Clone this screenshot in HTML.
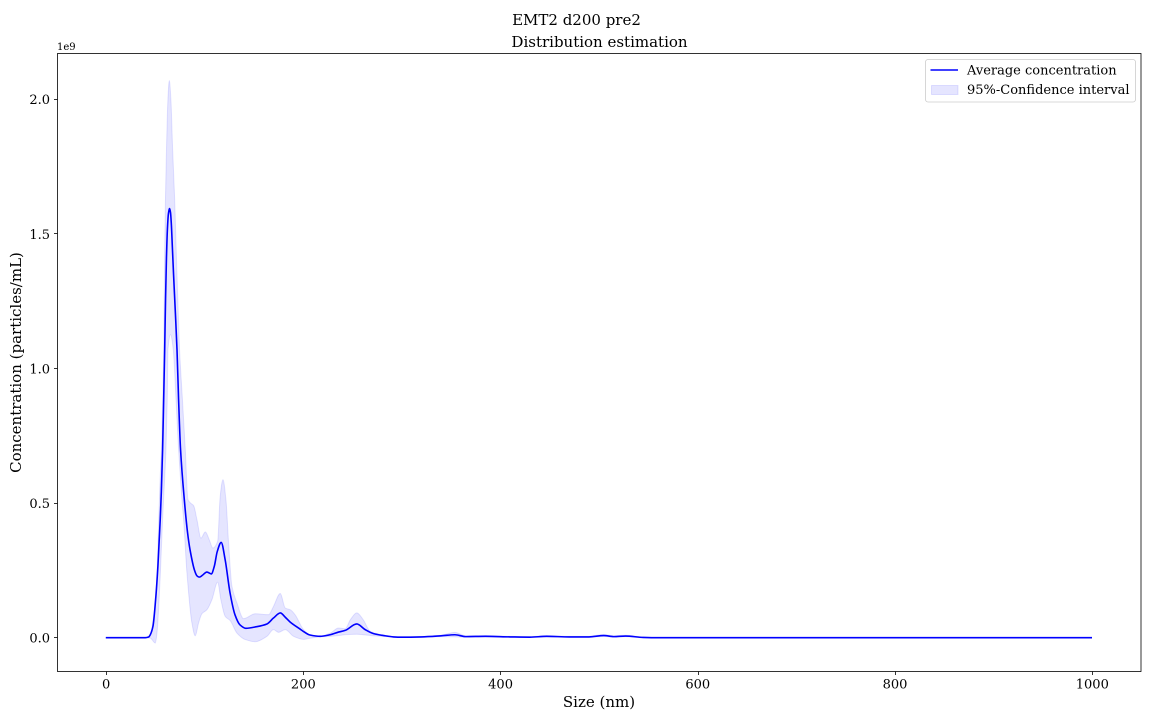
<!DOCTYPE html>
<html>
<head>
<meta charset="utf-8">
<title>EMT2 d200 pre2</title>
<style>
html,body{margin:0;padding:0;background:#fff;}
svg{display:block;}
text{font-family:"DejaVu Serif","Liberation Serif",serif;fill:#000;}
</style>
</head>
<body>
<svg id="chart" xmlns="http://www.w3.org/2000/svg" width="1152" height="720" viewBox="0 0 1152 720">
  <rect x="0" y="0" width="1152" height="720" fill="#fff"/>
  <text x="576.5" y="25" font-size="15" text-anchor="middle">EMT2 d200 pre2</text>
  <text x="599.5" y="47" font-size="15" text-anchor="middle">Distribution estimation</text>
  <g id="marks"></g>
  <g id="x-axis"></g>
  <g id="y-axis"></g>
  <rect x="57.5" y="53.5" width="1083.5" height="618" fill="none" stroke="#000" stroke-width="0.8"/>
  <text x="57" y="50" font-size="10">1e9</text>
  <text x="599" y="707" font-size="15" text-anchor="middle">Size (nm)</text>
  <text x="0" y="0" font-size="15" text-anchor="middle" transform="translate(21 362.5) rotate(-90)">Concentration (particles/mL)</text>
  <g>
    <rect x="925.5" y="59.5" width="210" height="42.5" rx="2.5" ry="2.5" fill="#fff" fill-opacity="0.8" stroke="#ccc" stroke-width="0.8"/>
    <line x1="930.5" y1="70" x2="958" y2="70" stroke="#0000ff" stroke-width="1.6"/>
    <text x="967" y="74.5" font-size="13">Average concentration</text>
    <rect x="931.5" y="85.5" width="26.5" height="9" fill="#0000ff" fill-opacity="0.1" stroke="#0000ff" stroke-opacity="0.1"/>
    <text x="967" y="94" font-size="13">95%-Confidence interval</text>
  </g>
</svg>
<script>
const xTicks = [0, 200, 400, 600, 800, 1000];
const yTicks = [0, 0.5, 1.0, 1.5, 2.0];
const yTickLabels = ['0.0', '0.5', '1.0', '1.5', '2.0'];

const meanSizes = [0,40,43.4,45.1,47.8,50.5,52.9,55.2,56.3,57.6,58.6,59.7,60.6,61.5,62.5,63.5,64.7,65.6,66.4,67.5,68.7,70.5,72.2,73.8,75.8,79.6,82.9,85.4,90,92.4,94.8,98,102.5,107,110,113,117,121,126,131,136,142,153,163.4,170,177,182,187,197,200.5,207,217.4,227.5,236,242.7,254.5,263,271.5,281.6,291.7,300,320,340,354,365,385,410,430,447,470,490,505,515,527,545,560,1000];
const meanValues = [0,0,0.0025,0.011,0.042,0.141,0.27,0.44,0.54,0.7,0.87,1.07,1.26,1.41,1.52,1.575,1.594,1.58,1.54,1.45,1.35,1.21,1.07,0.885,0.699,0.513,0.39,0.327,0.25,0.23,0.225,0.232,0.244,0.237,0.265,0.32,0.354,0.29,0.166,0.085,0.048,0.035,0.041,0.051,0.073,0.092,0.076,0.058,0.032,0.023,0.01,0.005,0.011,0.021,0.027,0.051,0.03,0.015,0.008,0.003,0.002,0.003,0.007,0.011,0.004,0.005,0.003,0.002,0.005,0.003,0.003,0.008,0.004,0.006,0.001,0,0];

const upperSizes = [0,40,45.1,48.5,51.2,53.5,55.2,56.5,58.6,59.3,60.3,61.3,63,64.4,66,67.7,69.8,72,74.8,77.7,80.6,83.3,86,89,92.4,96.5,100.9,104.9,108.6,113.4,116,118.8,121.8,124.5,127.9,133,139.7,151.5,165,170,176.9,182,187,192,200.5,207,217.4,227.5,236,242.7,248,254.5,261,268,281.6,291.7,300,320,340,354,365,385,410,430,447,470,490,505,515,527,545,560,1000];
const upperValues = [0,0,0.01,0.08,0.166,0.414,0.6,0.7,1.03,1.28,1.59,1.777,2.0,2.07,2.0,1.82,1.63,1.37,1.07,0.885,0.699,0.513,0.5,0.491,0.439,0.37,0.393,0.364,0.333,0.358,0.525,0.587,0.513,0.352,0.191,0.129,0.071,0.089,0.0855,0.116,0.164,0.11,0.104,0.085,0.03,0.011,0.006,0.017,0.036,0.033,0.067,0.092,0.067,0.024,0.009,0.004,0.003,0.004,0.009,0.02,0.007,0.008,0.005,0.004,0.008,0.005,0.005,0.012,0.007,0.009,0.002,0,0];

const lowerSizes = [0,40,45.5,46.8,50.2,51.9,53.5,55.2,57.6,58.6,61,62.3,63,65.6,68.4,71.2,73.8,77.2,78.9,82.3,87.3,90.7,94.1,97.5,102.6,107.6,113.4,116.7,121.1,126.2,133,141.4,151.5,163.4,170,175.2,182,190.4,200.5,207,217.4,227.5,236,242.7,254.5,263,271.5,281.6,291.7,300,320,340,354,365,385,410,430,447,470,490,505,515,527,545,560,1000];
const lowerValues = [0,0,-0.002,-0.007,-0.02,0.017,0.104,0.228,0.44,0.513,0.699,0.885,1.07,1.126,1.07,0.885,0.699,0.513,0.439,0.24,0.055,0.007,0.055,0.089,0.104,0.141,0.206,0.141,0.079,0.063,0.017,-0.007,-0.015,0.005,0.03,0.02,0.03,0.005,-0.006,-0.002,0.003,0.005,0.008,0.011,0.013,0.01,0.007,0.005,0.002,0.001,0.002,0.004,0.003,0.002,0.003,0.002,0.001,0.003,0.002,0.002,0.005,0.002,0.004,0,0,0];

const SVG_NS = 'http://www.w3.org/2000/svg';
function xScale(v) { return 105.8 + v * 0.9862; }
function yScale(v) { return 637.7 - v * 269.2; }

function make(tag, parent) {
  const el = document.createElementNS(SVG_NS, tag);
  parent.appendChild(el);
  return el;
}

function tangents(px, py) {
  const n = px.length, s = [], t = [];
  for (let i = 0; i < n - 1; i++) s.push((py[i + 1] - py[i]) / (px[i + 1] - px[i]));
  for (let i = 0; i < n; i++) {
    if (i === 0) t.push(s[0]);
    else if (i === n - 1) t.push(s[n - 2]);
    else if (s[i - 1] * s[i] <= 0) t.push(0);
    else t.push(2 * s[i - 1] * s[i] / (s[i - 1] + s[i]));
  }
  return t;
}

function smoothSegments(xs, ys) {
  const px = xs.map(xScale), py = ys.map(yScale), t = tangents(px, py);
  let d = '';
  for (let i = 0; i < px.length - 1; i++) {
    const h = (px[i + 1] - px[i]) / 3;
    d += 'C' + (px[i] + h).toFixed(2) + ' ' + (py[i] + t[i] * h).toFixed(2) + ' ' +
         (px[i + 1] - h).toFixed(2) + ' ' + (py[i + 1] - t[i + 1] * h).toFixed(2) + ' ' +
         px[i + 1].toFixed(2) + ' ' + py[i + 1].toFixed(2);
  }
  return { d: d, startX: px[0], startY: py[0] };
}

const marks = document.getElementById('marks');

const upperSeg = smoothSegments(upperSizes, upperValues);
const lowerRevSeg = smoothSegments(lowerSizes.slice().reverse(), lowerValues.slice().reverse());
const band = make('path', marks);


band.setAttribute('d', 'M' + upperSeg.startX + ' ' + upperSeg.startY + upperSeg.d + 'L' + lowerRevSeg.startX + ' ' + lowerRevSeg.startY + lowerRevSeg.d + 'Z');
band.setAttribute('fill', '#0000ff');
band.setAttribute('fill-opacity', '0.1');
band.setAttribute('stroke', '#0000ff');
band.setAttribute('stroke-opacity', '0.1');
band.setAttribute('stroke-width', '1');

const meanSeg = smoothSegments(meanSizes, meanValues);
const meanLine = make('path', marks);


meanLine.setAttribute('d', 'M' + meanSeg.startX + ' ' + meanSeg.startY + meanSeg.d);
meanLine.setAttribute('fill', 'none');
meanLine.setAttribute('stroke', '#0000ff');
meanLine.setAttribute('stroke-width', '1.6');
meanLine.setAttribute('stroke-linejoin', 'round');

const xAxis = document.getElementById('x-axis');
xTicks.forEach(function (v) {
  const x = xScale(v);
  const tickX = Math.round(x) + 0.5;
  const tick = make('line', xAxis);
  
  
  tick.setAttribute('x1', tickX);
  tick.setAttribute('x2', tickX);
  tick.setAttribute('y1', 671.5);
  tick.setAttribute('y2', 675);
  tick.setAttribute('stroke', '#000');
  tick.setAttribute('stroke-width', '0.8');
  const label = make('text', xAxis);
  
  
  label.setAttribute('x', x + 0.3);
  label.setAttribute('y', 688.5);
  label.setAttribute('font-size', '13');
  label.setAttribute('text-anchor', 'middle');
  label.textContent = String(v);
});

const yAxis = document.getElementById('y-axis');
yTicks.forEach(function (v, i) {
  const y = yScale(v);
  const tickY = Math.floor(y) + 0.5;
  const tick = make('line', yAxis);
  
  
  tick.setAttribute('x1', 54);
  tick.setAttribute('x2', 57.5);
  tick.setAttribute('y1', tickY);
  tick.setAttribute('y2', tickY);
  tick.setAttribute('stroke', '#000');
  tick.setAttribute('stroke-width', '0.8');
  const label = make('text', yAxis);
  
  
  label.setAttribute('x', 50);
  label.setAttribute('y', y + 4.9);
  label.setAttribute('font-size', '13');
  label.setAttribute('text-anchor', 'end');
  label.textContent = yTickLabels[i];
});
</script>
</body>
</html>
